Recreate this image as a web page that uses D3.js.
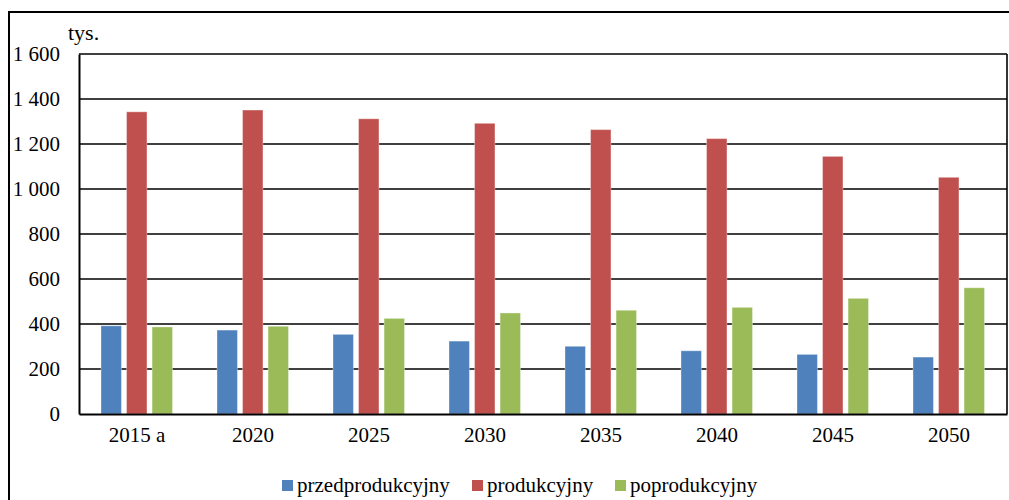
<!DOCTYPE html>
<html><head><meta charset="utf-8">
<script src="https://cdn.jsdelivr.net/npm/d3@7"></script>
<style>body{margin:0;background:#fff}svg{display:block}</style>
</head><body><svg id="c" width="1009" height="500"></svg>
<script>
const categories = ["2015 a","2020","2025","2030","2035","2040","2045","2050"];
const seriesNames = ["przedprodukcyjny","produkcyjny","poprodukcyjny"];
const przedprodukcyjny = [392,373,354,324,301,281,265,253];
const produkcyjny = [1343,1351,1312,1292,1264,1224,1145,1052];
const poprodukcyjny = [387,390,425,449,461,474,514,561];
const yTicks = [0,200,400,600,800,1000,1200,1400,1600];
const colors = ["#4F81BD","#C0504D","#9BBB59"];
const seriesValues = [przedprodukcyjny, produkcyjny, poprodukcyjny];
const FONT = "'Liberation Serif', 'Times New Roman', serif";

const svg = d3.select("#c");
const L=79, R=1007, T=54, B=414;
svg.append("rect").attr("x",9).attr("y",12).attr("width",1020).attr("height",520)
  .attr("fill","none").attr("stroke","#000").attr("stroke-width",2);

const x = d3.scaleBand().domain(categories).range([L,R]).paddingInner(0).paddingOuter(0);
const x1 = d3.scaleBand().domain(seriesNames).range([22,22+71.5]).paddingInner(0.2);
const y = d3.scaleLinear().domain([0,1600]).range([B,T]);

svg.append("g").selectAll("line").data(yTicks.filter(d=>d>0)).join("line")
  .attr("x1",L).attr("x2",R).attr("y1",d=>y(d)).attr("y2",d=>y(d))
  .attr("stroke","#000").attr("stroke-width",1.6);
svg.append("line").attr("x1",R).attr("x2",R).attr("y1",T).attr("y2",B).attr("stroke","#000").attr("stroke-width",1.6);

categories.forEach((c,i)=>{
  seriesNames.forEach((s,j)=>{
    svg.append("rect")
      .attr("x",x(c)+x1(s)).attr("y",y(seriesValues[j][i]))
      .attr("width",x1.bandwidth()).attr("height",B-y(seriesValues[j][i]))
      .attr("fill",colors[j]).attr("stroke","#fff").attr("stroke-opacity",0.35).attr("stroke-width",1);
  });
});

const ya = d3.axisLeft(y).tickValues(yTicks).tickSize(0).tickPadding(19)
  .tickFormat(d=>d3.format(",")(d).replace(/,/g," "));
const gy = svg.append("g").attr("transform",`translate(${L},0)`).call(ya);
gy.select(".domain").attr("stroke","#000").attr("stroke-width",2);
gy.selectAll("text").style("font-size","21px").style("font-family",FONT).attr("fill","#000");

const xa = d3.axisBottom(x).tickSize(0).tickPadding(13);
const gx = svg.append("g").attr("transform",`translate(0,${B})`).call(xa);
gx.select(".domain").attr("stroke","#000").attr("stroke-width",2.2);
gx.selectAll("text").style("font-size","21px").style("font-family",FONT).attr("fill","#000");

svg.append("text").attr("x",68).attr("y",40).style("font-size","22px").style("font-family",FONT).text("tys.");

const legX = [282,472,615];
seriesNames.forEach((s,j)=>{
  svg.append("rect").attr("x",legX[j]).attr("y",480).attr("width",11).attr("height",11).attr("fill",colors[j]);
  svg.append("text").attr("x",legX[j]+15).attr("y",492).style("font-size","21px").style("font-family",FONT).text(s);
});
</script></body></html>
